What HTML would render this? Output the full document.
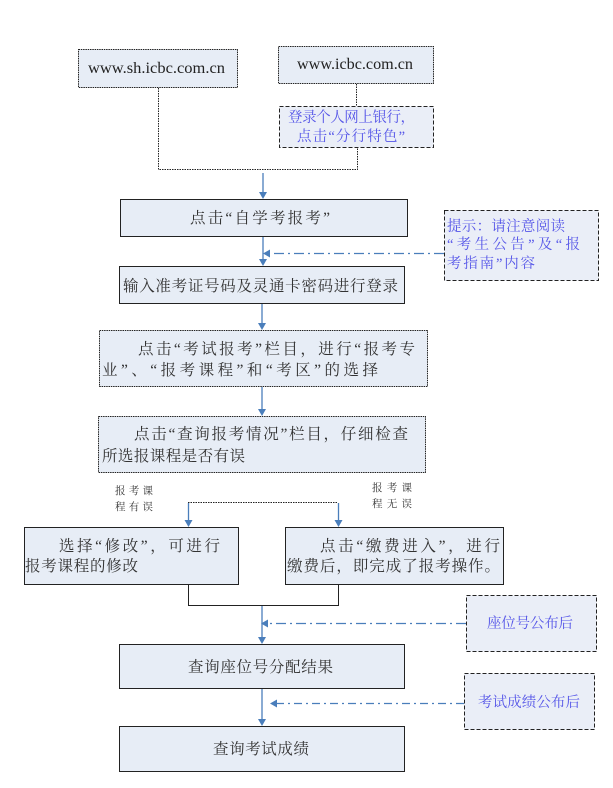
<!DOCTYPE html>
<html><head><meta charset="utf-8">
<style>
html,body{margin:0;padding:0;background:#fff;}
svg{display:block;}
.m{font-family:"Liberation Serif","Noto Serif CJK SC",serif;font-size:15.5px;fill:#333;}
.b{font-family:"Liberation Serif","Noto Serif CJK SC",serif;font-size:14.5px;fill:#5555e8;}
.s{font-family:"Liberation Serif","Noto Serif CJK SC",serif;font-size:10.5px;fill:#333;}
.u{font-family:"Liberation Serif",serif;font-size:16px;fill:#222;}
</style></head>
<body>
<svg width="613" height="788" viewBox="0 0 613 788" xmlns="http://www.w3.org/2000/svg">
<g fill="#e7edf6" stroke="#222" stroke-width="1">
<rect x="78.5" y="49.5" width="159" height="38" stroke-dasharray="1.5,0.8"/>
<rect x="278.5" y="46.5" width="155" height="37" stroke-dasharray="1.5,0.8"/>
<rect x="120.5" y="199.5" width="287" height="37"/>
<rect x="119.5" y="266.5" width="285" height="37"/>
<rect x="99.5" y="330.5" width="328" height="56" stroke-dasharray="1.5,0.8"/>
<rect x="98.5" y="416.5" width="327" height="56" stroke-dasharray="1.5,0.8"/>
<rect x="24.5" y="527.5" width="214" height="57"/>
<rect x="285.5" y="527.5" width="218" height="57"/>
<rect x="119.5" y="644.5" width="285" height="44"/>
<rect x="119.5" y="726.5" width="285" height="45"/>
</g>
<g fill="#eaeef7" stroke="#222" stroke-width="1" stroke-dasharray="4,2">
<rect x="279.5" y="106.5" width="154" height="41"/>
<rect x="444.5" y="210.5" width="154" height="70"/>
<rect x="466.5" y="595.5" width="130" height="56"/>
<rect x="464.5" y="673.5" width="130" height="56"/>
</g>
<g fill="none" stroke="#222" stroke-width="1">
<polyline points="158.5,88 158.5,169.5 357.5,169.5 357.5,148" stroke-dasharray="1.5,1"/>
<line x1="356.5" y1="84" x2="356.5" y2="106" stroke-dasharray="1.5,1"/>
<line x1="188" y1="502.5" x2="338" y2="502.5" stroke-dasharray="1.5,1"/>
<polyline points="188.5,585 188.5,605.5 338.5,605.5 338.5,585"/>
</g>
<g fill="none" stroke="#4a7ebb" stroke-width="1.3">
<line x1="263" y1="173" x2="263" y2="194"/>
<line x1="263" y1="237" x2="263" y2="261"/>
<line x1="262" y1="304" x2="262" y2="325"/>
<line x1="262" y1="387" x2="262" y2="411"/>
<line x1="188.5" y1="503" x2="188.5" y2="522"/>
<line x1="338.5" y1="503" x2="338.5" y2="522"/>
<line x1="262" y1="606" x2="262" y2="639"/>
<line x1="262" y1="689" x2="262" y2="721"/>
<line x1="444" y1="253.5" x2="269" y2="253.5" stroke-dasharray="10,4,2,4"/>
<line x1="466" y1="623.5" x2="267" y2="623.5" stroke-dasharray="10,4,2,4"/>
<line x1="464" y1="703.5" x2="276" y2="703.5" stroke-dasharray="8,4,2,4"/>
</g>
<g fill="#4a7ebb">
<polygon points="259,192 267,192 263,199"/>
<polygon points="259,259 267,259 263,266"/>
<polygon points="258,323 266,323 262,330"/>
<polygon points="258,409 266,409 262,416"/>
<polygon points="184.5,520 192.5,520 188.5,527"/>
<polygon points="334.5,520 342.5,520 338.5,527"/>
<polygon points="258,637 266,637 262,644"/>
<polygon points="258,719 266,719 262,726"/>
<polygon points="270,249.5 270,257.5 263,253.5"/>
<polygon points="268,619.5 268,627.5 261,623.5"/>
<polygon points="277,699.5 277,707.5 270,703.5"/>
</g>
<text class="u" x="88" y="73" textLength="137" lengthAdjust="spacingAndGlyphs">www.sh.icbc.com.cn</text>
<text class="u" x="297" y="69" textLength="116" lengthAdjust="spacingAndGlyphs">www.icbc.com.cn</text>
<text class="b" x="288" y="122" textLength="127" lengthAdjust="spacing">登录个人网上银行，</text>
<text class="b" x="297" y="141" textLength="108" lengthAdjust="spacing">点击“分行特色”</text>
<text class="m" x="190" y="223" textLength="140" lengthAdjust="spacing">点击“自学考报考”</text>
<text class="m" x="123" y="291" textLength="275" lengthAdjust="spacing">输入准考证号码及灵通卡密码进行登录</text>
<text class="b" x="447" y="231" textLength="118" lengthAdjust="spacing">提示：请注意阅读</text>
<text class="b" x="447" y="249" textLength="133" lengthAdjust="spacing">“考生公告”及“报</text>
<text class="b" x="447" y="268" textLength="88" lengthAdjust="spacing">考指南”内容</text>
<text class="m" x="138" y="354" textLength="277" lengthAdjust="spacing">点击“考试报考”栏目，进行“报考专</text>
<text class="m" x="102" y="375" textLength="276" lengthAdjust="spacing">业”、“报考课程”和“考区”的选择</text>
<text class="m" x="134" y="439" textLength="274" lengthAdjust="spacing">点击“查询报考情况”栏目，仔细检查</text>
<text class="m" x="102" y="461" textLength="143" lengthAdjust="spacing">所选报课程是否有误</text>
<text class="s" x="115" y="494" textLength="38" lengthAdjust="spacing">报考课</text>
<text class="s" x="115" y="510" textLength="38" lengthAdjust="spacing">程有误</text>
<text class="s" x="372" y="491" textLength="40" lengthAdjust="spacing">报考课</text>
<text class="s" x="372" y="507" textLength="40" lengthAdjust="spacing">程无误</text>
<text class="m" x="59" y="551" textLength="161" lengthAdjust="spacing">选择“修改”，可进行</text>
<text class="m" x="25" y="571" textLength="113" lengthAdjust="spacing">报考课程的修改</text>
<text class="m" x="320" y="551" textLength="180" lengthAdjust="spacing">点击“缴费进入”，进行</text>
<text class="m" x="287" y="571" textLength="213" lengthAdjust="spacing">缴费后，即完成了报考操作。</text>
<text class="m" x="188" y="672" textLength="145" lengthAdjust="spacing">查询座位号分配结果</text>
<text class="m" x="213" y="754" textLength="96" lengthAdjust="spacing">查询考试成绩</text>
<text class="b" x="487" y="628" textLength="86" lengthAdjust="spacing">座位号公布后</text>
<text class="b" x="478" y="707" textLength="102" lengthAdjust="spacing">考试成绩公布后</text>
</svg>
</body></html>
